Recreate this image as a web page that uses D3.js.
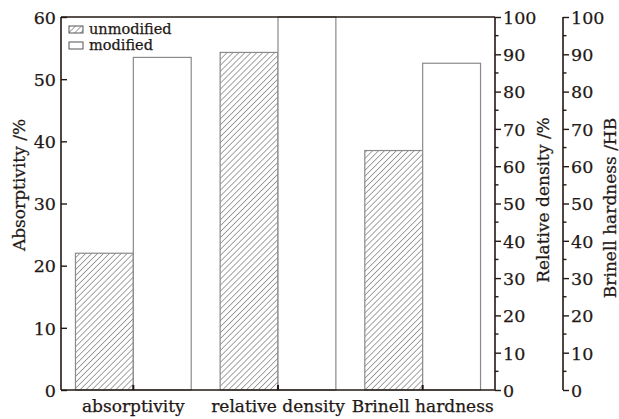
<!DOCTYPE html>
<html><head><meta charset="utf-8">
<script src="https://cdn.jsdelivr.net/npm/d3@7"></script>
<style>
body{margin:0;background:#fff;}
text{font-family:"DejaVu Serif",serif;fill:#231815;stroke:#231815;stroke-width:0.25px;}
</style></head>
<body><svg id="c" width="619" height="419"></svg>
<script>
const categories = ["absorptivity","relative density","Brinell hardness"];
const seriesNames = ["unmodified","modified"];
const unmodified = [22, 90.5, 64.2];
const modified = [53.5, 100, 87.6];
// which axis each category uses: 0 = left (0-60), 1 = right (0-100), 2 = far right (0-100)
const axisOf = [0, 1, 2];
const leftTicks = [0,10,20,30,40,50,60];
const rightTicks = [0,10,20,30,40,50,60,70,80,90,100];

const svg = d3.select("#c");
const L = 61, R = 495, T = 17, B = 390;
const defs = svg.append("defs");
const pat = defs.append("pattern").attr("id","hatch").attr("patternUnits","userSpaceOnUse")
  .attr("width",4.2).attr("height",4.2).attr("patternTransform","rotate(45)");
pat.append("rect").attr("width",4.2).attr("height",4.2).attr("fill","#fff");
pat.append("line").attr("x1",0).attr("y1",0).attr("x2",0).attr("y2",4.2)
  .attr("stroke","#4a4a4a").attr("stroke-width",1);

const x = d3.scaleBand().domain(categories).range([L,R]).paddingInner(0.2).paddingOuter(0.1);
const x1 = d3.scaleBand().domain(seriesNames).range([0,x.bandwidth()]);
const yL = d3.scaleLinear().domain([0,60]).range([B,T]);
const yR = d3.scaleLinear().domain([0,100]).range([B,T]);
const yFor = i => axisOf[i]===0 ? yL : yR;

const g = svg.append("g");
categories.forEach((c,i)=>{
  const y = yFor(i);
  [unmodified[i], modified[i]].forEach((v,j)=>{
    g.append("rect").attr("x",x(c)+x1(seriesNames[j])).attr("y",y(v))
      .attr("width",x1.bandwidth()).attr("height",y(0)-y(v))
      .attr("fill", j===0 ? "url(#hatch)" : "#fff")
      .attr("stroke","#8a8a8a").attr("stroke-width",1.2);
  });
});

// frame top
svg.append("line").attr("x1",L).attr("x2",R).attr("y1",T).attr("y2",T).attr("stroke","#231815").attr("stroke-width",1.6);

// left axis
const gl = svg.append("g").attr("transform",`translate(${L},0)`);
gl.call(d3.axisRight(yL).tickValues(leftTicks).tickSize(6).tickFormat(d3.format("d")));
gl.select(".domain").attr("stroke","#231815").attr("stroke-width",1.6).attr("d",`M0,${T}V${B}`);
gl.selectAll(".tick line").attr("stroke","#231815").attr("stroke-width",1.4);
gl.selectAll(".tick text").attr("x",-5).attr("text-anchor","end").attr("font-size",17.5).attr("dy","0.36em");

// bottom axis
const gb = svg.append("g").attr("transform",`translate(0,${B})`);
gb.call(d3.axisTop(x).tickSize(5));
gb.select(".domain").attr("stroke","#231815").attr("stroke-width",1.6).attr("d",`M${L},0H${R}`);
gb.selectAll(".tick line").attr("stroke","#231815").attr("stroke-width",2);
gb.selectAll(".tick text").attr("y",22).attr("dy",0).attr("font-size",17);

function rightAxis(xpos){
  const ga = svg.append("g").attr("transform",`translate(${xpos},0)`);
  ga.call(d3.axisRight(yR).tickValues(rightTicks).tickSize(6).tickFormat(d3.format("d")));
  ga.select(".domain").attr("stroke","#231815").attr("stroke-width",1.6).attr("d",`M0,${T}V${B}`);
  ga.selectAll(".tick line").attr("stroke","#231815").attr("stroke-width",1.4);
  ga.selectAll(".tick text").attr("x",8).attr("font-size",17.5).attr("dy","0.36em");
  const minor = d3.range(5,100,10);
  ga.selectAll(".minor").data(minor).enter().append("line")
    .attr("x1",0).attr("x2",3.5).attr("y1",d=>yR(d)).attr("y2",d=>yR(d))
    .attr("stroke","#231815").attr("stroke-width",1.4);
  return ga;
}
rightAxis(R);
rightAxis(563);

// titles
svg.append("text").attr("transform","translate(25,185) rotate(-90)").attr("text-anchor","middle").attr("font-size",17).text("Absorptivity /%");
svg.append("text").attr("transform","translate(549,200) rotate(-90)").attr("text-anchor","middle").attr("font-size",17).text("Relative density /%");
svg.append("text").attr("transform","translate(616,208) rotate(-90)").attr("text-anchor","middle").attr("font-size",17).text("Brinell hardness /HB");

// legend
const lg = svg.append("g");
seriesNames.forEach((s,j)=>{
  const yy = 26 + j*16;
  lg.append("rect").attr("x",69).attr("y",yy).attr("width",14).attr("height",7)
    .attr("fill", j===0 ? "url(#hatch)" : "#fff").attr("stroke","#555").attr("stroke-width",1);
  lg.append("text").attr("x",89).attr("y",yy+8).attr("font-size",14.5).text(s);
});
</script></body></html>
